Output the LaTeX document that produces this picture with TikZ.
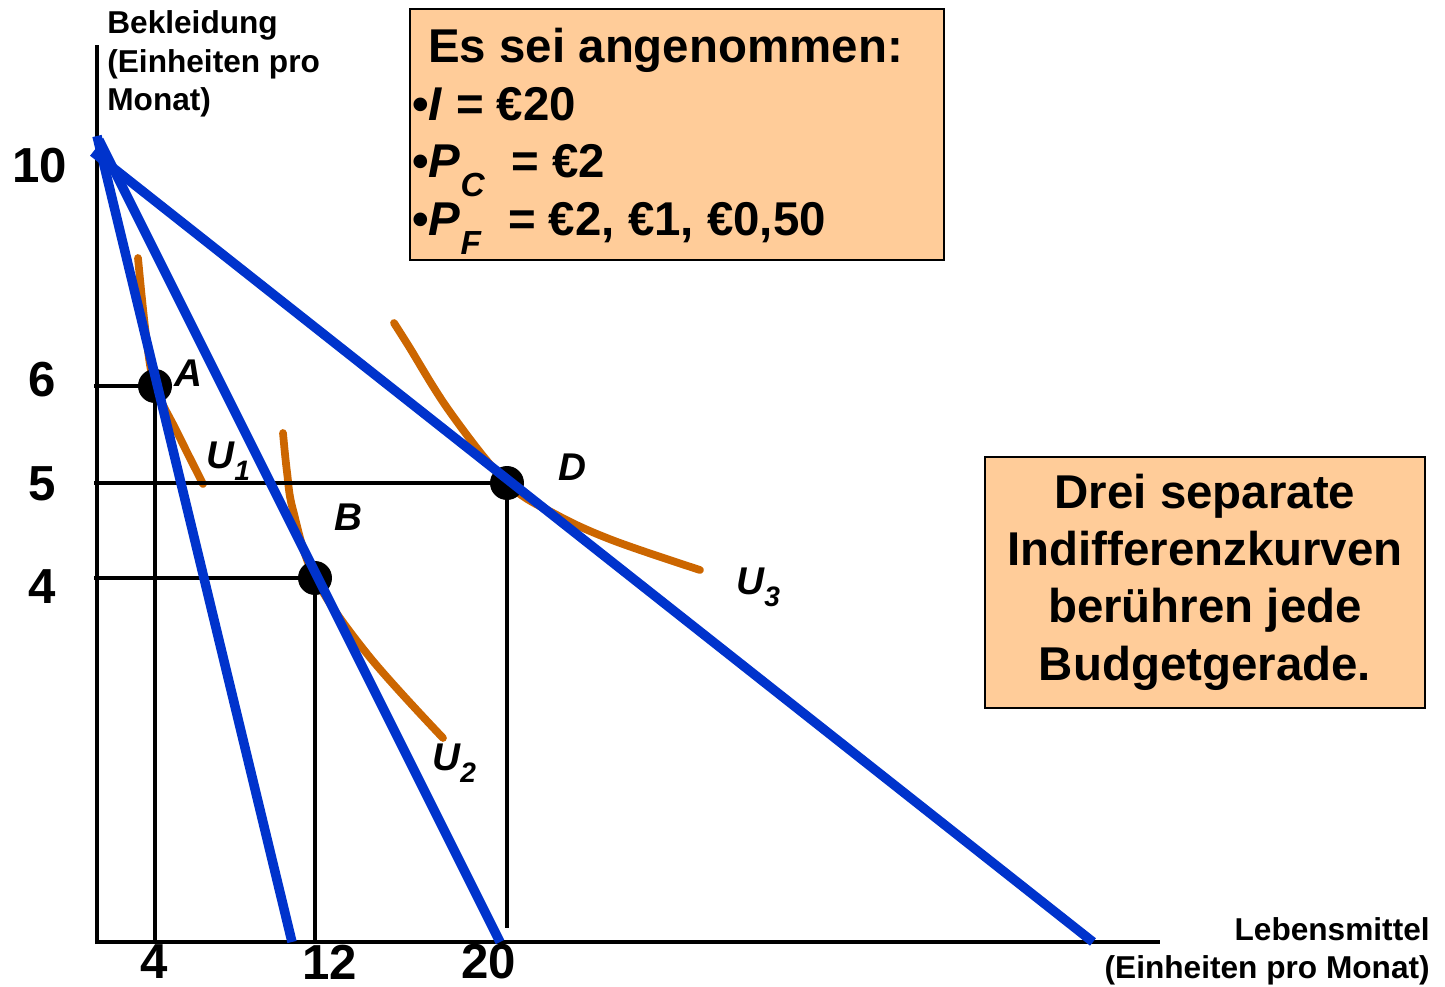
\documentclass[tikz,border=0pt]{standalone}
\usepackage{fontspec}
\setmainfont{Liberation Sans}
\definecolor{budget}{HTML}{0033CC}
\definecolor{icurve}{HTML}{CC6600}
\definecolor{boxfill}{HTML}{FFCC99}
\tikzset{
  axisline/.style={line width=2.8pt, black},
  guide/.style={line width=2.2pt, black},
  budgetline/.style={line width=5.4pt, budget},
  indiff/.style={line width=4.4pt, icurve, line cap=round},
  dot/.style={circle, fill=black, minimum size=0.68cm, inner sep=0pt},
  infobox/.style={draw=black, line width=1.2pt, fill=boxfill, inner sep=0pt},
  axlabel/.style={font=\fontsize{18}{22}\selectfont\bfseries, inner sep=0pt},
  tick/.style={font=\fontsize{28}{28}\selectfont\bfseries, inner sep=0pt},
  ptlabel/.style={font=\fontsize{22}{22}\selectfont\bfseries\itshape, inner sep=0pt},
  boxtext/.style={font=\fontsize{27}{32.6}\selectfont\bfseries, inner sep=0pt},
}
\newcommand{\lowsub}[3]{\raisebox{#1}{\fontsize{#3}{#3}\selectfont\textit{#2}}}
\begin{document}
\begin{tikzpicture}[x=0.02cm,y=-0.02cm]
\useasboundingbox (0,0) rectangle (1445,987);

% coordinates
\coordinate (ytop) at (97,45);
\coordinate (yo) at (97,944);
\coordinate (xend) at (1160,942);
\coordinate (xo) at (95,942);

% axes
\draw[axisline] (yo) -- (ytop);
\draw[axisline] (xo) -- (xend);

% guide points
\coordinate (A6) at (94,386);
\coordinate (D5) at (94,483);
\coordinate (B4) at (94,578);
\coordinate (A0) at (155,942);
\coordinate (B0) at (315,942);
\coordinate (D0) at (507,928);

% indifference curves
\draw[indiff] plot[smooth, tension=0.6] coordinates {(138,258) (146,335) (155,386) (177,432) (203,484)};
\draw[indiff] plot[smooth, tension=0.6] coordinates {(283,433) (287,472) (293,510) (315,578) (368,655) (443,738)};
\draw[indiff] plot[smooth, tension=0.6] coordinates {(394,323) (408,345) (450,412) (507,483) (555,514) (612,540) (700,570)};

% dots
\node[dot] (A) at (155,386) {};
\node[dot] (B) at (315,578) {};
\node[dot] (D) at (507,483) {};

% guides
\draw[guide] (A6) -- (A.center);
\draw[guide] (D5) -- (D.center);
\draw[guide] (B4) -- (B.center);
\draw[guide] (A.center) -- (A0);
\draw[guide] (B.center) -- (B0);
\draw[guide] (D.center) -- (D0);

% budget lines
\coordinate (L1s) at (97,136);
\coordinate (L1e) at (292,942);
\coordinate (L2s) at (99,140);
\coordinate (L2e) at (500,942);
\coordinate (L3s) at (93,152);
\coordinate (L3e) at (1093,942);
\draw[budgetline] (L1s) -- (L1e);
\draw[budgetline] (L2s) -- (L2e);
\draw[budgetline] (L3s) -- (L3e);

% point labels
\node[ptlabel] (lA) at (188,373) {A};
\node[ptlabel] (lB) at (348,517) {B};
\node[ptlabel] (lD) at (572,467) {D};
\node[ptlabel, anchor=base west] (lU1) at (206,468) {U\lowsub{-7pt}{1}{16}};
\node[ptlabel, anchor=base west] (lU2) at (432,770) {U\lowsub{-7pt}{2}{16}};
\node[ptlabel, anchor=base west] (lU3) at (736,594) {U\lowsub{-7pt}{3}{16}};

% ticks
\node[tick] (t10) at (40,166) {10};
\node[tick] (t6) at (42,380) {6};
\node[tick] (t5) at (42,484) {5};
\node[tick] (t4) at (42,587) {4};
\node[tick] (x4) at (154,962) {4};
\node[tick] (x12) at (330,962) {12};
\node[tick] (x20) at (489,962) {20};

% axis labels
\node[axlabel, anchor=base west] (yl1) at (107,33) {Bekleidung};
\node[axlabel, anchor=base west] (yl2) at (107,72) {(Einheiten pro};
\node[axlabel, anchor=base west] (yl3) at (107,110) {Monat)};
\node[axlabel, anchor=base east] (xl1) at (1430,940) {Lebensmittel};
\node[axlabel, anchor=base east] (xl2) at (1430,978) {(Einheiten pro Monat)};

% box 1
\node[infobox, minimum width=10.68cm, minimum height=5.02cm] (box1) at (677,134.5) {};
\node[boxtext, anchor=base west] (b1l1) at (428,62) {Es sei angenommen:};
\node[boxtext, anchor=base west] (b1l2) at (412,120) {•\textit{I} = €20};
\node[boxtext, anchor=base west] (b1l3) at (412,177) {•\textit{P}\lowsub{-11pt}{C}{19}\ \ = €2};
\node[boxtext, anchor=base west] (b1l4) at (412,235) {•\textit{P}\lowsub{-11pt}{F}{19}\ \ = €2, €1, €0,50};

% box 2
\node[infobox, minimum width=8.8cm, minimum height=5.02cm] (box2) at (1205,582.5) {};
\node[boxtext, align=center] (b2t) at (1205,582) {Drei separate\\Indifferenzkurven\\berühren jede\\Budgetgerade.};
\end{tikzpicture}
\end{document}
